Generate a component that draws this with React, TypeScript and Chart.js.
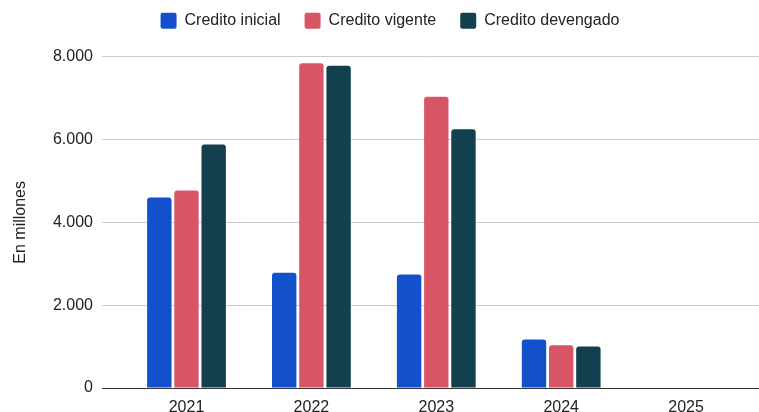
import { useEffect, useRef } from 'react';
import { Chart, registerables } from 'chart.js';

Chart.register(...registerables);

// ---- data ----
const YEARS = ['2021', '2022', '2023', '2024', '2025'];
const CREDITO_INICIAL = [4600, 2780, 2740, 1170, 0];
const CREDITO_VIGENTE = [4770, 7840, 7030, 1030, 0];
const CREDITO_DEVENGADO = [5880, 7780, 6250, 1000, 0];
const SERIES_NAMES = ['Credito inicial', 'Credito vigente', 'Credito devengado'];
const Y_MAX = 8000;
const Y_STEP = 2000;
const Y_TITLE = 'En millones';

// ---- style ----
const COLORS = ['#1250CC', '#D85566', '#12404F'];
const FONT_FAMILY = '"Liberation Sans", Arial, sans-serif';
const TEXT_COLOR = '#222222';

const fmt = (v: number) => String(v).replace(/\B(?=(\d{3})+(?!\d))/g, '.');

const legendSpacer = {
  id: 'legendSpacer',
  afterInit(chart: any) {
    const lg = chart.legend;
    if (!lg) return;
    const origFit = lg.fit.bind(lg);
    lg.fit = function () {
      origFit();
      this.height += 18;
    };
  },
};

export default function App() {
  const ref = useRef<HTMLCanvasElement | null>(null);

  useEffect(() => {
    if (!ref.current) return;
    const series = [CREDITO_INICIAL, CREDITO_VIGENTE, CREDITO_DEVENGADO];
    const chart = new Chart(ref.current, {
      type: 'bar',
      data: {
        datasets: series.map((vals, s) => ({
          label: SERIES_NAMES[s],
          data: vals.map((v, i) => ({ x: i, y: v })),
          backgroundColor: COLORS[s],
          borderColor: COLORS[s],
          borderWidth: 0,
          borderRadius: 3,
          borderSkipped: 'start',
          barPercentage: 0.897,
          categoryPercentage: 0.653,
        })),
      },
      options: {
        animation: false,
        responsive: true,
        maintainAspectRatio: false,
        layout: { padding: { top: -11.3, left: 21, right: 0, bottom: 0 } },
        plugins: {
          tooltip: { enabled: false },
          legend: {
            position: 'top',
            align: 'center',
            labels: {
              boxWidth: 16,
              boxHeight: 16,
              padding: 24,
              color: TEXT_COLOR,
              useBorderRadius: true,
              borderRadius: 2,
              font: { size: 16, family: FONT_FAMILY },
            },
          },
        },
        scales: {
          x: {
            type: 'linear',
            offset: false,
            min: -0.6765,
            max: 4.5837,
            grid: { display: false, offset: false },
            border: { display: true, color: '#333333', width: 1 },
            ticks: {
              stepSize: 1,
              includeBounds: false,
              autoSkip: false,
              maxRotation: 0,
              padding: 2,
              color: TEXT_COLOR,
              font: { size: 16, family: FONT_FAMILY },
              callback: (v: any) => YEARS[v] ?? '',
            },
            afterFit: (scale: any) => {
              scale.height = 24;
            },
          },
          y: {
            min: 0,
            max: Y_MAX,
            grid: {
              drawTicks: false,
              color: (ctx: any) => (ctx.tick && ctx.tick.value === 0 ? 'rgba(0,0,0,0)' : '#cccccc'),
              lineWidth: 1,
            },
            border: { display: false },
            ticks: {
              stepSize: Y_STEP,
              padding: 9,
              color: TEXT_COLOR,
              font: { size: 16, family: FONT_FAMILY },
              callback: (v: any) => fmt(Number(v)),
            },
            title: {
              display: true,
              text: Y_TITLE,
              color: TEXT_COLOR,
              font: { size: 16, family: FONT_FAMILY },
              padding: { top: -9.6, bottom: 0 },
            },
            afterFit: (scale: any) => {
              scale.width = 81;
            },
          },
        },
      },
      plugins: [legendSpacer],
    } as any);
    return () => chart.destroy();
  }, []);

  return (
    <div style={{ position: 'absolute', left: 0, top: 0, width: 759, height: 412 }}>
      <canvas ref={ref} />
    </div>
  );
}
